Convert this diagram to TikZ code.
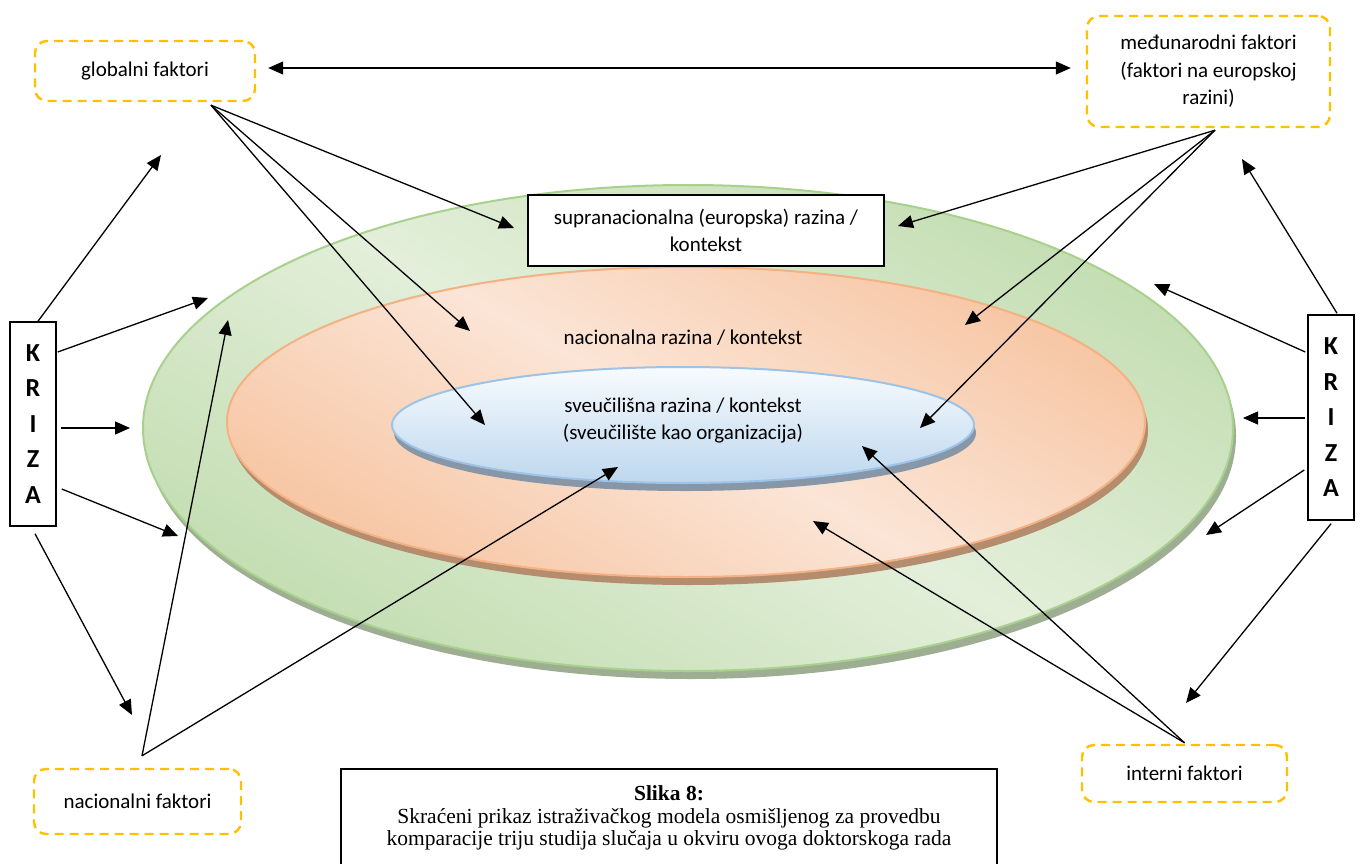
\documentclass[tikz,border=0pt]{standalone}
\usepackage{fontspec}
\setmainfont{Carlito}
\newfontfamily\capfont{Liberation Serif}
\usetikzlibrary{arrows.meta,calc}
\definecolor{gold}{HTML}{FFC000}
\definecolor{glight}{HTML}{E3EFDA}
\definecolor{gdark}{HTML}{AED197}
\definecolor{gline}{HTML}{A9D18E}
\definecolor{gshad}{HTML}{9EAE93}
\definecolor{olight}{HTML}{FBE5D6}
\definecolor{odark}{HTML}{F4B183}
\definecolor{oline}{HTML}{F4B183}
\definecolor{oshad}{HTML}{B48C6E}
\definecolor{blight}{HTML}{F8FBFE}
\definecolor{bdark}{HTML}{BDD7EE}
\definecolor{bline}{HTML}{9DC3E6}
\definecolor{bshad}{HTML}{8797A8}
\begin{document}
\begin{tikzpicture}[x=1pt,y=-1pt,
  font=\fontsize{21}{27}\selectfont,
  arr/.style={line width=1.3pt,-{Triangle[length=15pt,width=13pt]}},
  darr/.style={line width=1.3pt,{Triangle[length=15pt,width=13pt]}-{Triangle[length=15pt,width=13pt]}},
  factbox/.style={draw=gold,line width=2.4pt,dash pattern=on 9pt off 6pt,rounded corners=12pt,align=center,inner sep=0pt},
  krizabox/.style={draw,line width=1.5pt,fill=white,minimum width=46pt,minimum height=204pt,align=center,inner sep=0pt,font=\fontsize{26}{35.5}\selectfont\bfseries},
  plainbox/.style={draw,line width=1.5pt,fill=white,align=center,inner sep=0pt}
]
\useasboundingbox (0,0) rectangle (1362,864);
\fill[white] (0,0) rectangle (1362,864);

% green ellipse
\fill[gshad] (691,436) ellipse [x radius=545, y radius=243];
\begin{scope}
  \clip (688,428) ellipse [x radius=545, y radius=243];
  \shade[top color=gdark, bottom color=gdark, middle color=glight, shading angle=-30] (-239,15) rectangle (1615,841);
\end{scope}
\draw[gline, line width=2pt] (688,428) ellipse [x radius=545, y radius=243];
% orange ellipse
\fill[oshad] (689,430) ellipse [x radius=459, y radius=155];
\begin{scope}
  \clip (686,422) ellipse [x radius=459, y radius=155];
  \shade[top color=odark, bottom color=odark, middle color=olight, shading angle=-30] (-94,158) rectangle (1466,686);
\end{scope}
\draw[oline, line width=2pt] (686,422) ellipse [x radius=459, y radius=155];
% blue ellipse
\fill[bshad] (685,433) ellipse [x radius=291, y radius=58];
\shade[top color=blight, bottom color=bdark] (683,425) ellipse [x radius=291, y radius=58];
\draw[bline, line width=2pt] (683,425) ellipse [x radius=291, y radius=58];

% texts in ellipses
\node (natl) at (683,338) {nacionalna razina / kontekst};
\node[align=center] (univ) at (683,421) {sveučilišna razina / kontekst\\(sveučilište kao organizacija)};

% boxes
\node[plainbox, minimum width=356pt, minimum height=71pt] (supra) at (706,230.5) {supranacionalna (europska) razina /\\kontekst};
\node[factbox, minimum width=220pt, minimum height=60pt] (glob) at (145,71) {globalni faktori};
\node[factbox, minimum width=243pt, minimum height=111pt, font=\fontsize{21}{27.5}\selectfont] (intl) at (1208.5,71.5) {međunarodni faktori\\(faktori na europskoj\\razini)};
\node[factbox, minimum width=207pt, minimum height=65pt] (nat) at (137.5,801.5) {nacionalni faktori};
\node[factbox, minimum width=205pt, minimum height=57pt] (int) at (1184.5,773.5) {interni faktori};
\node[krizabox] (kl) at (33,424) {K\\R\\I\\Z\\A};
\node[krizabox, minimum height=205pt] (kr) at (1331,417.5) {K\\R\\I\\Z\\A};
\node[draw, line width=1.2pt, minimum width=656pt, minimum height=98pt, align=center, inner sep=0pt,
      font=\capfont\fontsize{21.5}{22.5}\selectfont] (cap) at (669,818)
  {\textbf{Slika 8:}\\Skraćeni prikaz istraživačkog modela osmišljenog za provedbu\\komparacije triju studija slučaja u okviru ovoga doktorskoga rada};

% source points
\coordinate (gs) at ($(glob.south)+(66,3)$);
\coordinate (is) at ($(intl.south)+(6.5,2)$);
\coordinate (ns) at ($(nat.north)+(4.5,-12)$);
\coordinate (ts) at ($(int.north)+(0,-1)$);

% target points
\coordinate (g1) at (514,228);
\coordinate (g2) at (470,331);
\coordinate (g3) at (485,425);
\coordinate (i1) at (898,226);
\coordinate (i2) at (965,325);
\coordinate (i3) at (920,428);
\coordinate (n1) at (228,320);
\coordinate (n2) at (618,467);
\coordinate (t1) at (813,521);
\coordinate (t2) at (862,446);
\coordinate (l1) at (161,155);
\coordinate (l2) at (208,298);
\coordinate (l3) at (130,428);
\coordinate (l4) at (178,536);
\coordinate (l5) at (132,715);
\coordinate (r1) at (1242,159);
\coordinate (r2) at (1154,284);
\coordinate (r3) at (1243,418);
\coordinate (r4) at (1206,535);
\coordinate (r5) at (1186,703);

% connectors
\draw[darr] ($(glob.east)+(12,-3)$) -- ($(intl.west)+(-15,-3.5)$);
\draw[arr] (gs) -- (g1);
\draw[arr] (gs) -- (g2);
\draw[arr] (gs) -- (g3);
\draw[arr] (is) -- (i1);
\draw[arr] (is) -- (i2);
\draw[arr] (is) -- (i3);
\draw[arr] (ns) -- (n1);
\draw[arr] (ns) -- (n2);
\draw[arr] (ts) -- (t1);
\draw[arr] (ts) -- (t2);
\draw[arr] ($(kl.north)+(5,0)$) -- (l1);
\draw[arr] ($(kl.east)+(1,-72)$) -- (l2);
\draw[arr] ($(kl.east)+(4,4)$) -- (l3);
\draw[arr] ($(kl.east)+(5,65)$) -- (l4);
\draw[arr] ($(kl.south)+(2,7)$) -- (l5);
\draw[arr] ($(kr.north)+(6,-1)$) -- (r1);
\draw[arr] ($(kr.west)+(-2,-65.5)$) -- (r2);
\draw[arr] ($(kr.west)+(-2,0.5)$) -- (r3);
\draw[arr] ($(kr.west)+(-3,52.5)$) -- (r4);
\draw[arr] ($(kr.south)+(0,3)$) -- (r5);
\end{tikzpicture}
\end{document}
